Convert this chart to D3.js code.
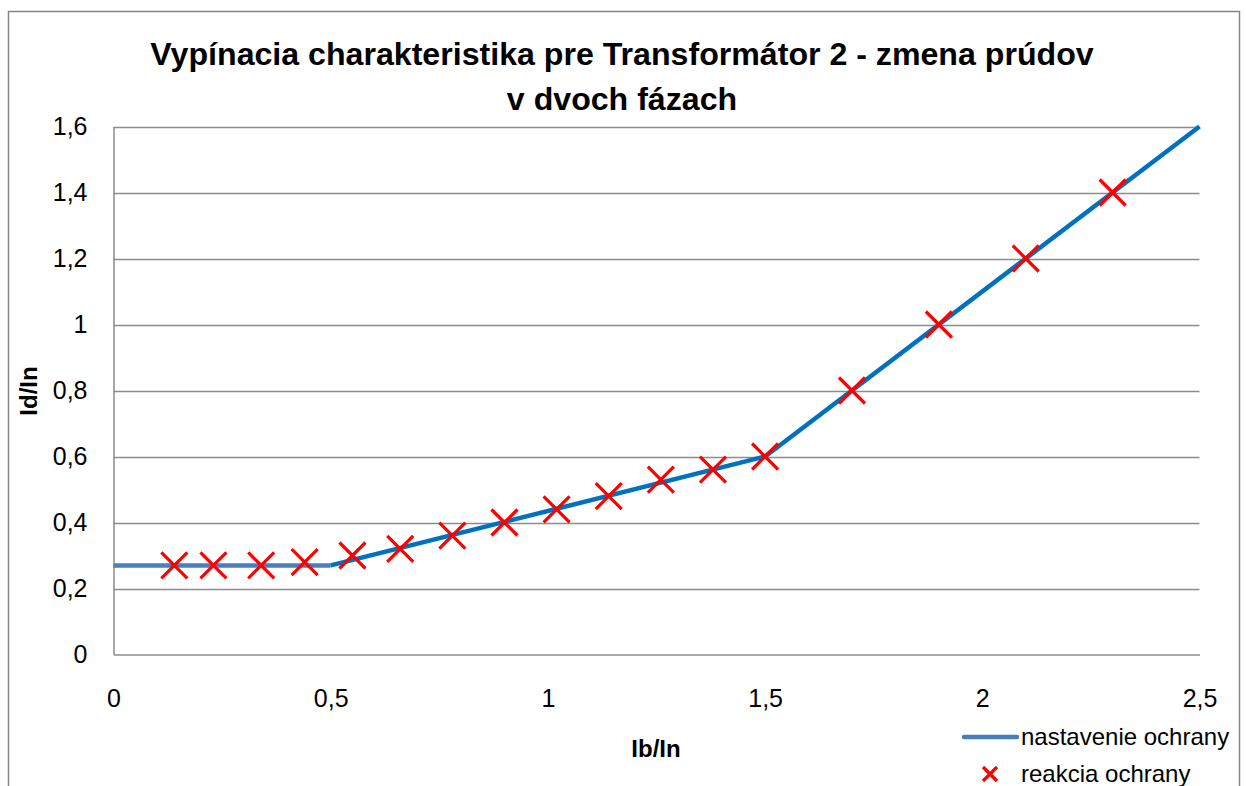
<!DOCTYPE html>
<html>
<head>
<meta charset="utf-8">
<script src="https://cdn.jsdelivr.net/npm/d3@7/dist/d3.min.js"></script>
<style>
  html, body { margin: 0; padding: 0; background: #fff; }
  svg { display: block; font-family: "Liberation Sans", Arial, sans-serif; }
</style>
</head>
<body>
<svg id="chart" width="1246" height="786"></svg>
<script>
// Protection setting characteristic (break points)
const settingX = [0, 0.5, 1.5, 2.5];
const settingY = [0.27, 0.27, 0.6, 1.6];

// Measured protection responses
const responseX = [0.14, 0.23, 0.34, 0.44, 0.55, 0.66, 0.78, 0.9, 1.02, 1.14, 1.26, 1.38, 1.5, 1.7, 1.9, 2.1, 2.3];
const responseY = [0.27, 0.27, 0.27, 0.28, 0.30, 0.32, 0.36, 0.40, 0.44, 0.48, 0.53, 0.56, 0.6, 0.8, 1.0, 1.2, 1.4];

const xTicks = [0, 0.5, 1, 1.5, 2, 2.5];
const yTicks = [0, 0.2, 0.4, 0.6, 0.8, 1, 1.2, 1.4, 1.6];

const titleLines = ["Vypínacia charakteristika pre Transformátor 2 - zmena prúdov", "v dvoch fázach"];
const xTitle = "Ib/In";
const yTitle = "Id/In";
const legendLabels = ["nastavenie ochrany", "reakcia ochrany"];

const svg = d3.select("#chart");
const fmt = v => String(v).replace(".", ",");
const FONT = "'Liberation Sans', Arial, sans-serif";

const plot = { left: 113.5, right: 1199.5, top: 126.5, bottom: 654.5 };
const x = d3.scaleLinear().domain([0, 2.5]).range([plot.left, plot.right]);
const y = d3.scaleLinear().domain([0, 1.6]).range([plot.bottom, plot.top]);

// Outer chart frame
svg.append("rect")
  .attr("x", 8.5).attr("y", 11.5).attr("width", 1231).attr("height", 800)
  .attr("fill", "none").attr("stroke", "#868686").attr("stroke-width", 1.5);

// Title
const title = svg.append("g");
titleLines.forEach((t, i) => {
  title.append("text")
    .attr("x", 622).attr("y", 65 + i * 45)
    .attr("text-anchor", "middle")
    .attr("font-weight", "bold")
    .attr("font-size", 28)
    .attr("fill", "#000")
    .text(t);
});
// fit the first title line to its intended width
{
  const t0 = title.select("text").node();
  const w = t0.getComputedTextLength();
  const fs = 28 * 944 / w;
  title.selectAll("text").attr("font-size", fs);
}

// Horizontal gridlines
svg.append("g")
  .selectAll("line")
  .data(yTicks.filter(d => d > 0))
  .join("line")
  .attr("x1", plot.left).attr("x2", plot.right)
  .attr("y1", d => Math.round(y(d)) + 0.5).attr("y2", d => Math.round(y(d)) + 0.5)
  .attr("stroke", "#8c8c8c").attr("stroke-width", 1.5);

// Axes
const yAxis = d3.axisLeft(y).tickValues(yTicks).tickFormat(fmt).tickSize(0).tickPadding(26);
const gy = svg.append("g").attr("transform", `translate(${plot.left},0)`).call(yAxis);
gy.attr("font-size", 25).attr("font-family", FONT);
gy.select(".domain").attr("stroke", "#8c8c8c").attr("stroke-width", 1.5);
gy.selectAll("text").attr("fill", "#000");

const xAxis = d3.axisBottom(x).tickValues(xTicks).tickFormat(fmt).tickSize(0).tickPadding(35);
const gx = svg.append("g").attr("transform", `translate(0,${plot.bottom})`).call(xAxis);
gx.attr("font-size", 25).attr("font-family", FONT);
gx.select(".domain").attr("stroke", "#8c8c8c").attr("stroke-width", 1.5);
gx.selectAll("text").attr("fill", "#000");

// Axis titles
svg.append("text")
  .attr("x", 656).attr("y", 757)
  .attr("text-anchor", "middle").attr("font-weight", "bold").attr("font-size", 24)
  .text(xTitle);
svg.append("text")
  .attr("transform", "translate(37,391) rotate(-90)")
  .attr("text-anchor", "middle").attr("font-weight", "bold").attr("font-size", 24)
  .text(yTitle);

// Setting characteristic: flat section and rising sections
const settingPts = settingX.map((d, i) => [d, settingY[i]]);
const line = d3.line().x(d => x(d[0])).y(d => y(d[1]));
svg.append("path")
  .attr("d", line(settingPts.slice(0, 2)))
  .attr("fill", "none").attr("stroke", "#4a7ebb").attr("stroke-width", 4.5);
svg.append("path")
  .attr("d", line(settingPts.slice(1)))
  .attr("fill", "none").attr("stroke", "#0070c0").attr("stroke-width", 4.5)
  .attr("stroke-linejoin", "round");

// Response markers (crosses)
const cross = (g, cx, cy, h, sw) => {
  g.append("path")
    .attr("d", `M${cx - h},${cy - h}L${cx + h},${cy + h}M${cx - h},${cy + h}L${cx + h},${cy - h}`)
    .attr("stroke", "#ff0000").attr("stroke-width", sw).attr("fill", "none");
};
const markers = svg.append("g");
responseX.forEach((d, i) => cross(markers, x(d), y(responseY[i]), 13, 3.2));

// Legend
const lg = svg.append("g");
lg.append("line")
  .attr("x1", 964).attr("x2", 1017).attr("y1", 737).attr("y2", 737)
  .attr("stroke", "#4a7ebb").attr("stroke-width", 4.5).attr("stroke-linecap", "round");
lg.append("text").attr("x", 1021).attr("y", 745).attr("font-size", 24).text(legendLabels[0]);
cross(lg, 990, 774, 7, 3.2);
lg.append("text").attr("x", 1021).attr("y", 782).attr("font-size", 24).text(legendLabels[1]);
</script>
</body>
</html>
